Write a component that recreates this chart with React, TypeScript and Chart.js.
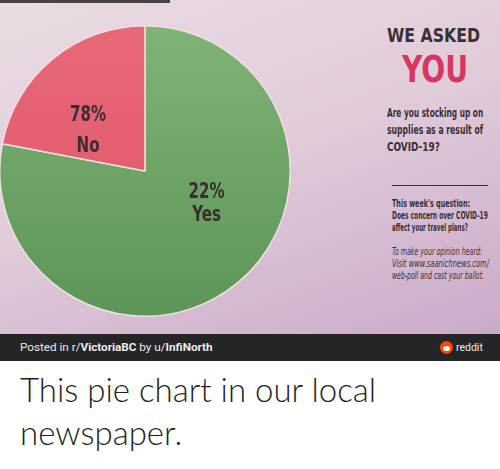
import React, { useEffect, useLayoutEffect, useRef, useState } from 'react';
import { Chart, registerables } from 'chart.js';

Chart.register(...registerables);

// slice sizes as they are drawn in the paper (share of the circle)
const answers = ['Yes', 'No'];
const sliceShares = [78, 22];
// percentages as they are printed on the slices
const printedPercents = ['22%', '78%'];

const questionLines = ['Are you stocking up on', 'supplies as a result of', 'COVID-19?'];
const nextQuestionLines = ["This week's question:", 'Does concern over COVID-19', 'affect your travel plans?'];
const voteLines = ['To make your opinion heard:', 'Visit www.saanichnews.com/', 'web-poll and cast your ballot.'];

// printed widths of the lines above, in px
const questionWidths = [96, 96, 53];
const nextQuestionWidths = [78, 96, 76];
const voteWidths = [90, 97, 92];

const sliceColors = [
  ['#7fb476', '#5c9557'],
  ['#e8687a', '#dd5367'],
];

const NARROW = '"DejaVu Sans Condensed", "Liberation Sans", sans-serif';

// draws the printed percent + answer inside each slice
const sliceLabels = {
  id: 'sliceLabels',
  afterDatasetsDraw(chart: any, _args: any, opts: any) {
    const { ctx } = chart;
    const meta = chart.getDatasetMeta(0);
    meta.data.forEach((arc: any, i: number) => {
      const { x, y, startAngle, endAngle, outerRadius } = arc.getProps(
        ['x', 'y', 'startAngle', 'endAngle', 'outerRadius'],
        true
      );
      const a = startAngle + (endAngle - startAngle) * opts.anglePos[i];
      const r = outerRadius * opts.radiusPos;
      const cx = x + Math.cos(a) * r;
      const cy = y + Math.sin(a) * r;
      const gap = opts.gap[i];
      ctx.save();
      ctx.font = `bold 21px ${NARROW}`;
      ctx.fillStyle = '#3a2e31';
      ctx.textAlign = 'center';
      ctx.textBaseline = 'middle';
      const t1 = printedPercents[i];
      const t2 = answers[i];
      ctx.fillText(t1, cx, cy - gap / 2, ctx.measureText(t1).width * opts.squeeze);
      ctx.fillText(t2, cx, cy + gap / 2, ctx.measureText(t2).width * opts.squeeze);
      ctx.restore();
    });
  },
};

const PieChart = () => {
  const chartRef = useRef<HTMLCanvasElement>(null);

  useEffect(() => {
    const chart = new Chart(chartRef.current as HTMLCanvasElement, {
      type: 'pie',
      data: {
        labels: answers,
        datasets: [
          {
            data: sliceShares,
            backgroundColor: (c: any) => {
              const { ctx, chartArea } = c.chart;
              const [top, bottom] = sliceColors[c.dataIndex] || sliceColors[0];
              if (!chartArea) return top;
              const g = ctx.createLinearGradient(0, chartArea.top, 0, chartArea.bottom);
              g.addColorStop(0, top);
              g.addColorStop(1, bottom);
              return g;
            },
            borderColor: '#f1dfe2',
            borderWidth: 1.5,
          },
        ],
      },
      options: {
        responsive: true,
        maintainAspectRatio: false,
        animation: false,
        layout: { padding: 0 },
        plugins: {
          legend: { display: false },
          tooltip: { enabled: false },
          sliceLabels: { anglePos: [0.42, 0.31], radiusPos: 0.48, gap: [23, 31], squeeze: 0.8 },
        } as any,
      },
      plugins: [sliceLabels],
    });

    return () => chart.destroy();
  }, []);

  return (
    <div style={{ position: 'absolute', left: -1, top: 25, width: 292, height: 292 }}>
      <canvas ref={chartRef} />
    </div>
  );
};

// one line of text squeezed horizontally to a given printed width
const FitLine = ({ text, left, top, width, font, color, lineHeight }: any) => {
  const ref = useRef<HTMLSpanElement>(null);
  const [scale, setScale] = useState(1);

  useLayoutEffect(() => {
    if (!ref.current) return;
    const w = ref.current.offsetWidth;
    if (w > 0) setScale(width / w);
  }, [text, width, font]);

  return (
    <span
      ref={ref}
      style={{
        position: 'absolute',
        left,
        top,
        font,
        lineHeight: `${lineHeight}px`,
        color,
        whiteSpace: 'nowrap',
        transform: `scaleX(${scale})`,
        transformOrigin: 'left center',
      }}
    >
      {text}
    </span>
  );
};

const App = () => {
  return (
    <div
      style={{
        position: 'fixed',
        left: 0,
        top: 0,
        width: 500,
        height: 469,
        background: '#fff',
        overflow: 'hidden',
      }}
    >
      <div
        style={{
          position: 'absolute',
          left: 0,
          top: 0,
          width: 500,
          height: 334,
          background: 'linear-gradient(160deg, #eadbe4 0%, #e1cdda 45%, #caaac9 100%)',
        }}
      >
        <div style={{ position: 'absolute', left: 0, top: 0, width: 170, height: 3, background: '#4a3f47' }} />
        <PieChart />

        <FitLine text="WE ASKED" left={387} top={24} width={93} lineHeight={22} font={`bold 19px ${NARROW}`} color="#3b3035" />
        <FitLine text="YOU" left={402} top={49} width={66} lineHeight={40} font={`bold 38px ${NARROW}`} color="#d93560" />
        {questionLines.map((t, i) => (
          <FitLine
            key={t}
            text={t}
            left={387}
            top={104 + i * 17}
            width={questionWidths[i]}
            lineHeight={17}
            font={`bold 12.5px ${NARROW}`}
            color="#3a2f35"
          />
        ))}
        <div style={{ position: 'absolute', left: 392, top: 185, width: 96, height: 1, background: '#3a3035' }} />
        {nextQuestionLines.map((t, i) => (
          <FitLine
            key={t}
            text={t}
            left={392}
            top={197 + i * 12}
            width={nextQuestionWidths[i]}
            lineHeight={12}
            font={`bold 10.5px ${NARROW}`}
            color="#3a2f35"
          />
        ))}
        {voteLines.map((t, i) => (
          <FitLine
            key={t}
            text={t}
            left={392}
            top={245 + i * 12}
            width={voteWidths[i]}
            lineHeight={12}
            font={`italic 10.5px ${NARROW}`}
            color="#3a2f35"
          />
        ))}
      </div>

      <div
        style={{
          position: 'absolute',
          left: 0,
          top: 334,
          width: 500,
          height: 27,
          background: '#252527',
          fontFamily: 'Roboto, sans-serif',
          color: '#ececec',
        }}
      >
        <div style={{ position: 'absolute', left: 20, top: 5, fontSize: 11.7, lineHeight: '17px' }}>
          Posted in r/<b>VictoriaBC</b> by u/<b>InfiNorth</b>
        </div>
        <div
          style={{
            position: 'absolute',
            left: 440,
            top: 7,
            width: 13,
            height: 13,
            borderRadius: '50%',
            background: '#ff4500',
          }}
        >
          <div
            style={{
              position: 'absolute',
              left: 3,
              top: 5,
              width: 7,
              height: 5,
              borderRadius: '50%',
              background: '#fff',
            }}
          />
        </div>
        <div style={{ position: 'absolute', left: 456, top: 6, fontSize: 10.5, lineHeight: '15px' }}>reddit</div>
      </div>

      <div
        style={{
          position: 'absolute',
          left: 20,
          top: 368,
          width: 470,
          fontFamily: 'Lato, sans-serif',
          fontWeight: 300,
          fontSize: 33,
          lineHeight: '43px',
          color: '#1f1f1f',
        }}
      >
        This pie chart in our local newspaper.
      </div>
    </div>
  );
};

export default App;
